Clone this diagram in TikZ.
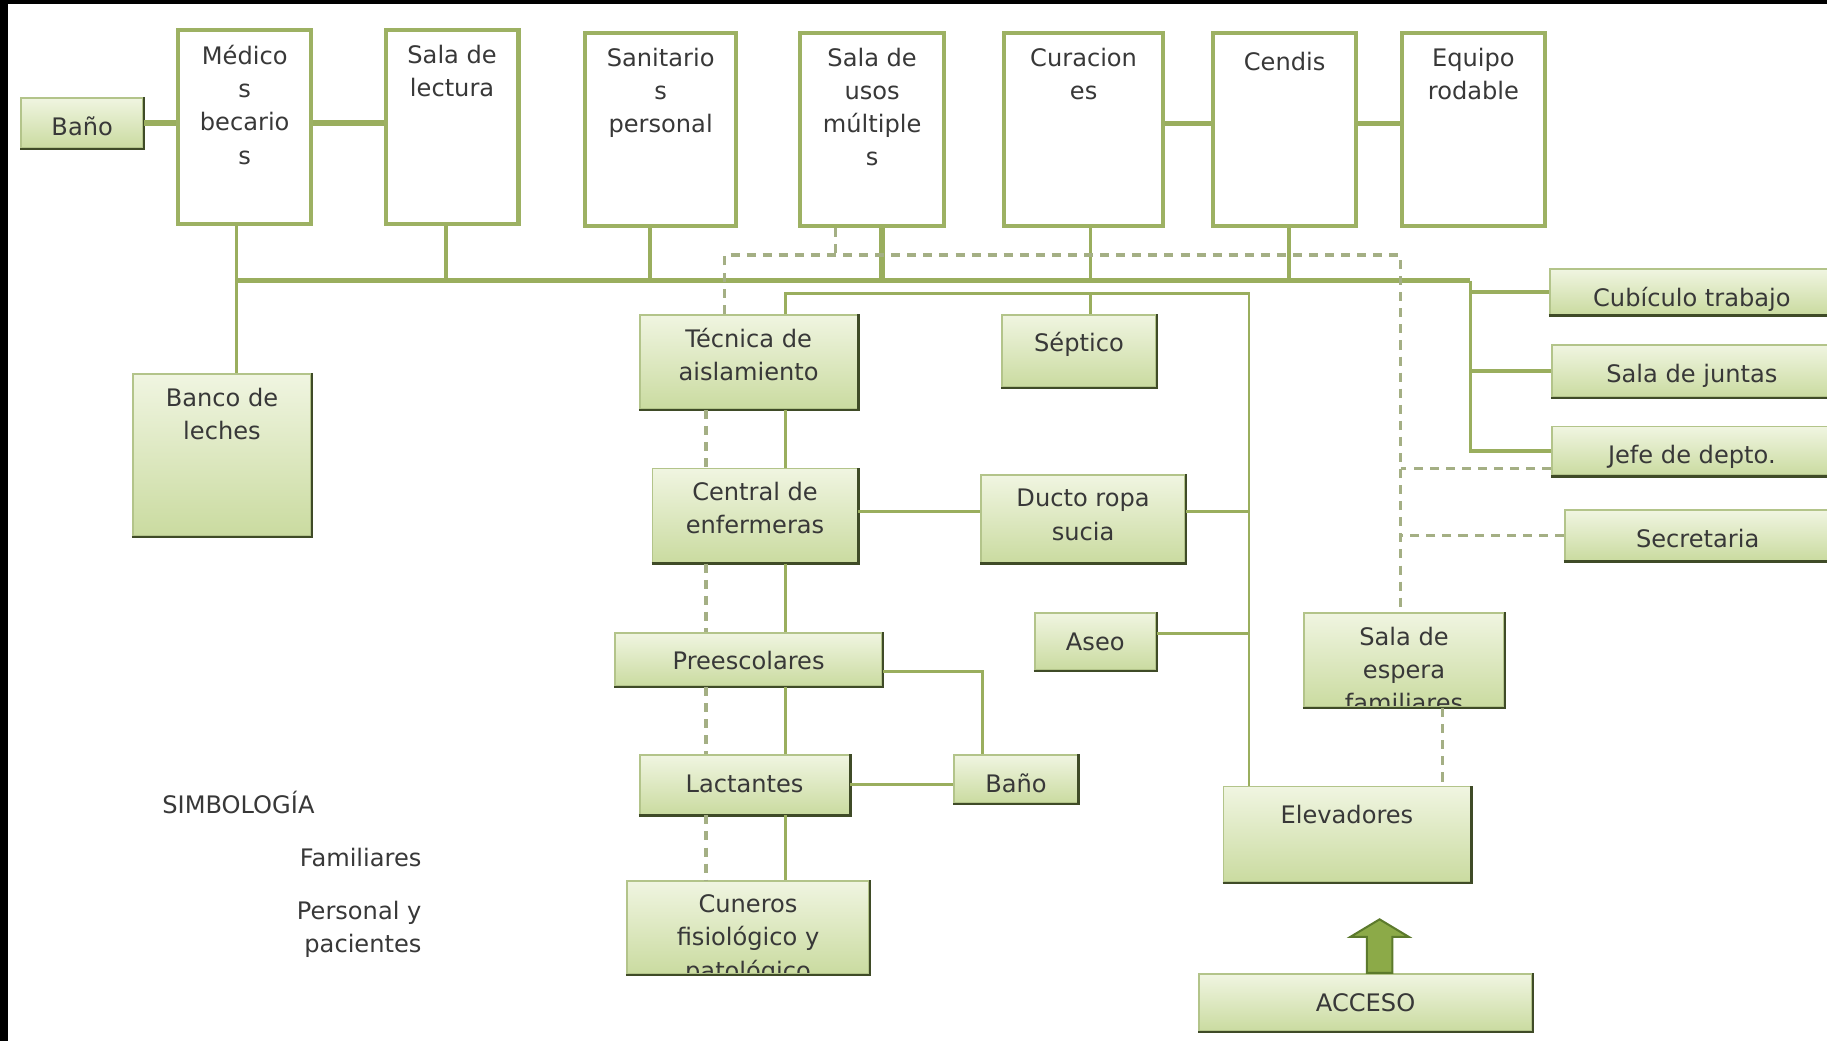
\documentclass[tikz,border=0pt]{standalone}
\usepackage{fontspec}
\setmainfont{DejaVu Sans}
\usepackage{xcolor}
\usetikzlibrary{positioning, calc}
\definecolor{roomline}{HTML}{9DB163}
\definecolor{linegreen}{HTML}{9AAE5E}
\definecolor{famgreen}{HTML}{A4AF84}
\definecolor{boxline}{HTML}{B3C48A}
\definecolor{boxtop}{HTML}{F0F5E1}
\definecolor{boxbottom}{HTML}{CADBA0}
\definecolor{boxshadow}{HTML}{3F4B27}
\definecolor{ink}{HTML}{383838}
\definecolor{arrowfill}{HTML}{8CAA48}
\definecolor{arrowline}{HTML}{5C7A2C}
\newcommand{\px}{0.58pt}

\begin{document}
\begin{tikzpicture}[
    x=\px, y=-\px,
    font=\fontsize{12}{16.5}\selectfont, text=ink,
    dims/.style 2 args={minimum width=#1*\px, minimum height=#2*\px},
    boxtext/.style={anchor=north, align=center, inner sep=0pt, minimum width=0pt,
        minimum height=0pt, draw=none, fill=none, path picture={}, text=ink,
        execute at begin node=\strut},
    inscribe/.style={path picture={\node[boxtext] at ([yshift=-6.5pt]path picture bounding box.north) {#1};}},
    room/.style={draw=roomline, line width=2pt, fill=white, inner sep=0pt},
    box/.style={draw=boxline, line width=0.9pt, top color=boxtop, bottom color=boxbottom, inner sep=0pt},
    shadowedge/.style={draw=boxshadow, line width=1.2pt},
    keytext/.style={inner sep=0pt},
    joint/.style={draw=linegreen, line width=2.8pt},
    bus/.style={draw=linegreen, line width=2.6pt},
    tap/.style={draw=linegreen, line width=1.8pt},
    link/.style={draw=linegreen, line width=1.4pt},
    fam/.style={draw=famgreen, line width=1.7pt, dash pattern=on 4.5pt off 3.5pt},
    accessarrow/.style={fill=arrowfill, draw=arrowline, line width=1pt}
]
\useasboundingbox (0,0) rectangle (1568,893);
\fill[white] (0,0) rectangle (1568,893);

% Top rooms
\node[room, dims={114}{166}, inscribe={Médico\\s\\becario\\s}] (medicos) at (210,109) {};
\node[room, dims={114}{166}, inscribe={Sala de\\lectura}] (lectura) at (388,109) {};
\node[room, dims={130}{166}, inscribe={Sanitario\\s\\personal}] (sanitarios) at (567,111) {};
\node[room, dims={123}{166}, inscribe={Sala de\\usos\\múltiple\\s}] (usos) at (748.5,111) {};
\node[room, dims={136}{166}, inscribe={Curacion\\es}] (curaciones) at (930,111) {};
\node[room, dims={123}{166}, inscribe={Cendis}] (cendis) at (1102.5,111) {};
\node[room, dims={123}{166}, inscribe={Equipo\\rodable}] (equipo) at (1264.5,111) {};

% Shaded areas
\node[box, dims={105}{43}, inscribe={Baño}] (bano1) at (70.5,105.5) {};
\node[box, dims={153}{139}, inscribe={Banco de\\leches}] (banco) at (190.5,390.5) {};
\node[box, dims={187}{81}, inscribe={Técnica de\\aislamiento}] (tecnica) at (642.5,310.5) {};
\node[box, dims={132}{62}, inscribe={Séptico}] (septico) at (926,301) {};
\node[box, dims={176}{81}, inscribe={Central de\\enfermeras}] (central) at (648,442.5) {};
\node[box, dims={175}{75}, inscribe={Ducto ropa\\sucia}] (ducto) at (929.5,445.5) {};
\node[box, dims={229}{46}, inscribe={Preescolares}] (preesc) at (642.5,566) {};
\node[box, dims={104}{49}, inscribe={Aseo}] (aseo) at (940,550.5) {};
\node[box, dims={180}{51}, inscribe={Lactantes}] (lactantes) at (639,673.5) {};
\node[box, dims={106}{41}, inscribe={Baño}] (bano2) at (872,668.5) {};
\node[box, dims={208}{80}, inscribe={Cuneros\\fisiológico y\\patológico}] (cuneros) at (642,796) {};
\node[box, dims={172}{81}, inscribe={Sala de\\espera\\familiares}] (espera) at (1205,566.5) {};
\node[box, dims={212}{82}, inscribe={Elevadores}] (elev) at (1156,716) {};
\node[box, dims={286}{49}, inscribe={ACCESO}] (acceso) at (1172,860.5) {};
\node[box, dims={244}{39}, inscribe={Cubículo trabajo}] (cubiculo) at (1452,250.5) {};
\node[box, dims={240}{45}, inscribe={Sala de juntas}] (juntas) at (1452,318.5) {};
\node[box, dims={240}{42}, inscribe={Jefe de depto.}] (jefe) at (1452,387) {};
\node[box, dims={228}{43}, inscribe={Secretaria}] (secretaria) at (1457,459.5) {};

\foreach \n in {bano1,banco,tecnica,septico,central,ducto,preesc,aseo,lactantes,bano2,cuneros,espera,elev,acceso}
    \draw[shadowedge] (\n.south west) -- (\n.south east) -- (\n.north east);
\foreach \n in {cubiculo,juntas,jefe,secretaria}
    \draw[shadowedge] (\n.south west) -- (\n.south east);

% Joints between top rooms
\draw[joint] (bano1.east) -- (bano1.east -| medicos.west);
\draw[joint] ([yshift=2pt]medicos.east) -- ([yshift=2pt]lectura.west);
\draw[joint] ([yshift=3pt]curaciones.east) -- ([yshift=3pt]cendis.west);
\draw[joint] ([yshift=3pt]cendis.east) -- ([yshift=3pt]equipo.west);

% Main corridor
\coordinate (busW) at (203,241);
\coordinate (busE) at (1262,241);
\draw[bus] (busW) -- (busE);
\draw[tap] (busW |- medicos.south) -- (busW |- banco.north);
\foreach \n/\dx in {lectura/-5, sanitarios/-9, curaciones/6, cendis/3.5}
    \draw[tap] ([xshift=\dx*\px]\n.south) -- ([xshift=\dx*\px]\n.south |- busW);
\draw[bus] ([xshift=8.5*\px]usos.south) -- ([xshift=8.5*\px]usos.south |- busW);
\draw[tap] (busE) |- (jefe.west);
\draw[tap] (cubiculo.west -| busE) -- (cubiculo.west);
\draw[tap] (juntas.west -| busE) -- (juntas.west);

% Personal y pacientes
\coordinate (spine) at (674,252);
\coordinate (ring) at (1072,252);
\draw[link] (spine |- tecnica.north) -- (spine) -- (ring) -- (ring |- elev.north);
\draw[link] ([xshift=10*\px]septico.north) -- ([xshift=10*\px]septico.north |- ring);
\draw[link] ([yshift=2pt]central.east) -- ([yshift=2pt]central.east -| ducto.west);
\draw[link] ([yshift=3.8pt]ducto.east) -- ([yshift=3.8pt]ducto.east -| ring);
\draw[link] ([yshift=3.8pt]aseo.east) -- ([yshift=3.8pt]aseo.east -| ring);
\draw[link] ([yshift=-5.8pt]preesc.east) -| ([xshift=-16.8pt]bano2.north);
\draw[link] (lactantes.east) -- (lactantes.east -| bano2.west);

% Familiares
\coordinate (famcol) at (606,351);
\coordinate (famL) at (622,219);
\coordinate (famR) at (1202,219);
\foreach \a/\b in {tecnica/central, central/preesc, preesc/lactantes, lactantes/cuneros} {
    \draw[link] (spine |- \a.south) -- (spine |- \b.north);
    \draw[fam] (famcol |- \a.south) -- (famcol |- \b.north);
}
\draw[fam] (famL |- tecnica.north) -- (famL) -- (famR) -- (famR |- espera.north);
\draw[fam] ([xshift=-31.5*\px]usos.south) -- ([xshift=-31.5*\px]usos.south |- famL);
\draw[fam] ([yshift=-8.7pt]jefe.west) -- ([yshift=-8.7pt]jefe.west -| famR);
\draw[fam] (secretaria.west) -- (secretaria.west -| famR);
\draw[fam] ([xshift=33*\px]espera.south) -- ([xshift=33*\px]espera.south |- elev.north);

% Access arrow
\coordinate (tip) at (1184,789);
\draw[accessarrow] (tip) -- ++(25,15) -- ++(-14,0) -- ++(0,31) -- ++(-22,0) -- ++(0,-31) -- ++(-14,0) -- cycle;

% Legend
\node[keytext, anchor=west] (simbologia) at (139,689) {SIMBOLOGÍA};
\node[keytext, anchor=east] (familiares) at (362,736) {Familiares};
\node[keytext, anchor=east, align=right] (personal) at (362,797.5) {Personal y\\pacientes};

% Screen edge
\fill[black] (0,0) rectangle (1568,3);
\fill[black] (0,0) rectangle (7,893);
\end{tikzpicture}
\end{document}
